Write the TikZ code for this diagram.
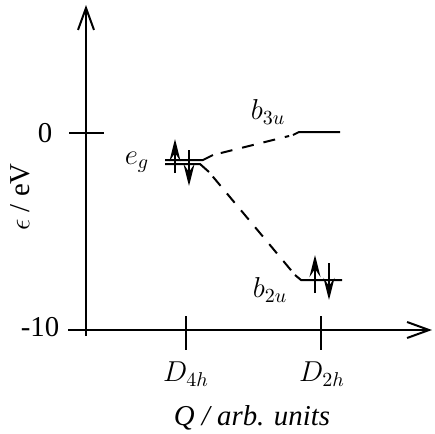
\documentclass[tikz,border=0pt]{standalone}
\usepackage{fontspec}
\setmainfont{Liberation Serif}
\usetikzlibrary{arrows.meta}

\tikzset{
  axis/.style={line width=1pt, -{Straight Barb[length=11pt, width=8pt, line width=1pt]}},
  tick/.style={line width=1pt},
  level/.style={line width=1pt},
  spin/.style={line width=1.1pt, -{Stealth[length=11pt, width=5.5pt, inset=4pt]}},
  link/.style={line width=1pt, dash pattern=on 6pt off 5pt}
}

\begin{document}
\begin{tikzpicture}[x=0.5pt, y=-0.5pt, font=\Large]
  \useasboundingbox (0,0) rectangle (435,434);

  % Axes
  \coordinate (ybot) at (86,336);
  \coordinate (ytop) at (86,5);
  \coordinate (xbeg) at (68,330);
  \coordinate (xend) at (432,330);
  \draw[axis] (ybot) -- (ytop);
  \draw[axis] (xbeg) -- (xend);

  % Ticks
  \coordinate (t0a) at (69,133);
  \coordinate (t0b) at (104,133);
  \coordinate (t4a) at (186,316);
  \coordinate (t4b) at (186,350);
  \coordinate (t2a) at (321,316);
  \coordinate (t2b) at (321,350);
  \draw[tick] (t0a) -- (t0b);
  \draw[tick] (t4a) -- (t4b);
  \draw[tick] (t2a) -- (t2b);

  % Axis labels
  \node (zero) at (45,133) {0};
  \node (mten) at (40,327) {-10};
  \node[rotate=90] (ylab) at (20,197) {$\epsilon$ / eV};
  \node (dfour) at (186,374) {$D_{4h}$};
  \node (dtwo) at (322,374) {$D_{2h}$};
  \node (xlab) at (252,418) {\itshape Q / arb. units};

  % Levels
  \draw[level] (165,160) -- (203,160) -- (213,155) coordinate (egup);
  \draw[level] (165,164) -- (200,164) -- (209,172) coordinate (eglo);
  \draw[level] (293,135) coordinate (bthree) -- (299,132) -- (340,132);
  \draw[level] (295,275) coordinate (btwo) -- (301,280) -- (342,280);
  \node (eg) at (137,162) {$e_g$};
  \node (bthreelab) at (268,112) {$b_{3u}$};
  \node (btwolab) at (270,290) {$b_{2u}$};

  % Correlation lines
  \draw[link, shorten <=4pt, shorten >=2pt] (egup) -- (bthree);
  \draw[link, shorten <=3pt, shorten >=2pt] (eglo) -- (btwo);

  % Electrons
  \draw[spin] (175,173) -- (175,139);
  \draw[spin] (189,150) -- (189,186);
  \draw[spin] (315,293) -- (315,255);
  \draw[spin] (329,263) -- (329,300);
\end{tikzpicture}
\end{document}
